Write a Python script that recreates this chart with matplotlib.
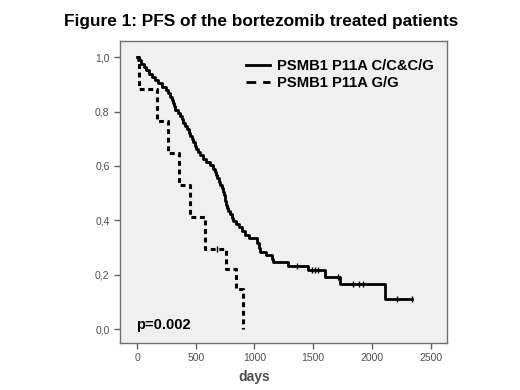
import numpy as np
import matplotlib
matplotlib.use("Agg")
import matplotlib.pyplot as plt
from matplotlib.lines import Line2D

plt.rcParams['font.family'] = ['Liberation Sans', 'DejaVu Sans']

# PSMB1 P11A C/C & C/G : step times (days) and survival after each step
cc_times = [0, 10, 30, 55, 80, 100, 125, 150, 175, 215, 245, 265, 280, 295, 305,
            315, 325, 345, 365, 380, 395, 410, 425, 440, 455, 465, 478, 490, 505,
            520, 540, 560, 590, 625, 650, 665, 675, 685, 700, 710, 720, 730, 738,
            745, 752, 760, 768, 778, 792, 805, 820, 840, 870, 895, 920, 950, 1020,
            1035, 1048, 1100, 1150, 1160, 1286, 1457, 1601, 1729, 2112]
cc_surv = [1.0, 0.988, 0.976, 0.964, 0.952, 0.940, 0.928, 0.916, 0.904, 0.892,
           0.880, 0.867, 0.855, 0.843, 0.831, 0.819, 0.807, 0.795, 0.783, 0.771,
           0.759, 0.747, 0.735, 0.723, 0.711, 0.699, 0.687, 0.675, 0.663, 0.651,
           0.639, 0.627, 0.615, 0.603, 0.590, 0.578, 0.566, 0.554, 0.542, 0.530,
           0.518, 0.506, 0.494, 0.482, 0.470, 0.458, 0.446, 0.434, 0.422, 0.410,
           0.398, 0.387, 0.375, 0.360, 0.345, 0.335, 0.318, 0.300, 0.285, 0.272,
           0.258, 0.248, 0.232, 0.217, 0.191, 0.165, 0.110]
cc_end = 2342
cc_censored = [1363, 1491, 1516, 1542, 1712, 1840, 1891, 1925, 2215, 2342]

# PSMB1 P11A G/G
gg_times = [0, 15, 170, 264, 358, 451, 579, 758, 843, 903]
gg_surv = [1.0, 0.882, 0.765, 0.647, 0.529, 0.412, 0.294, 0.221, 0.147, 0.0]
gg_end = 903
gg_censored = [682]

xticks = [0, 500, 1000, 1500, 2000, 2500]
yticks = [0.0, 0.2, 0.4, 0.6, 0.8, 1.0]
ytick_labels = ['0,0', '0,2', '0,4', '0,6', '0,8', '1,0']


def surv_at(t, times, surv):
    i = np.searchsorted(times, t, side='right') - 1
    return np.array(surv)[i]


fig = plt.figure(figsize=(5.2, 3.9), dpi=100)
fig.patch.set_facecolor('white')
ax = fig.add_axes([0.2308, 0.1205, 0.629, 0.774])
ax.set_facecolor('#f0f0f0')

# solid curve
ax.step(cc_times + [cc_end], cc_surv + [cc_surv[-1]], where='post',
        color='black', lw=2.0)
ax.plot(cc_censored, surv_at(cc_censored, cc_times, cc_surv), ls='none',
        marker='|', ms=4, mew=1.0, color='black')

# dashed curve
ax.step(gg_times + [gg_end], gg_surv + [gg_surv[-1]], where='post',
        color='black', lw=2.2, dashes=(1.6, 1.2))
ax.plot(gg_censored, surv_at(gg_censored, gg_times, gg_surv), ls='none',
        marker='|', ms=4, mew=1.0, color='black')

ax.set_xlim(-145, 2640)
ax.set_ylim(-0.051, 1.059)
ax.set_xticks(xticks)
ax.set_yticks(yticks)
ax.set_yticklabels(ytick_labels)
ax.tick_params(direction='out', length=4, width=1, colors='#606060',
               labelsize=7.5, labelcolor='#505050')
for s in ax.spines.values():
    s.set_color('#707070')
    s.set_linewidth(1.0)

ax.set_xlabel('days', fontsize=10, fontweight='bold', color='#505050')
ax.xaxis.set_label_coords(0.41, -0.09)

handles = [Line2D([], [], color='black', lw=2.0),
           Line2D([], [], color='black', lw=2.0, dashes=(3.5, 2.5))]
ax.legend(handles, ['PSMB1 P11A C/C&C/G', 'PSMB1 P11A G/G'],
          loc='upper right', bbox_to_anchor=(1.0, 0.985), frameon=False,
          handlelength=1.6, handletextpad=0.5, labelspacing=0.2,
          prop={'weight': 'bold', 'size': 10.6})

ax.text(0.05, 0.045, 'p=0.002', transform=ax.transAxes, fontsize=10.5,
        fontweight='bold', color='black')

fig.text(0.502, 0.945, 'Figure 1: PFS of the bortezomib treated patients',
         ha='center', va='center', fontsize=12.4, fontweight='bold')

fig.savefig('out.png', dpi=100)
